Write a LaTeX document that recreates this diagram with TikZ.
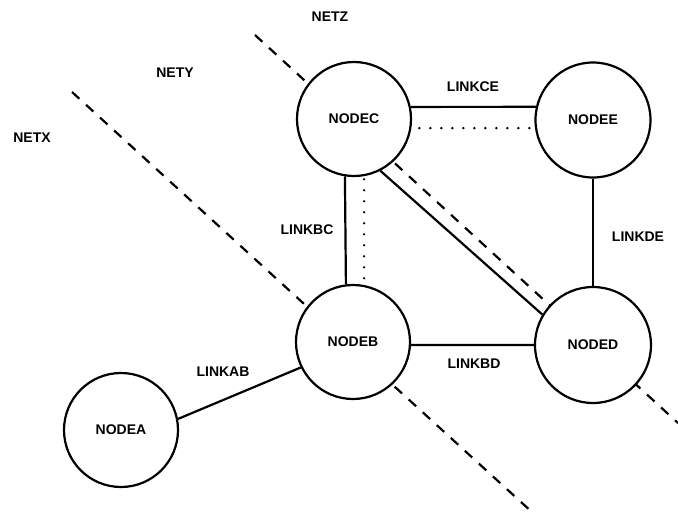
\documentclass[tikz,border=0pt]{standalone}
\usepackage{fontspec}
\setmainfont{Liberation Sans}
\begin{document}
\begin{tikzpicture}[x=1pt,y=-1pt,
  netnode/.style={draw,circle,line width=2.2pt,fill=white,inner sep=0pt,minimum size=114pt,font=\fontsize{14}{16}\selectfont\bfseries},
  lbl/.style={inner sep=0pt,font=\fontsize{14}{16}\selectfont\bfseries},
  link/.style={line width=2.2pt},
  dotlink/.style={line width=2.6pt,line cap=round,dash pattern=on 0pt off 11pt},
  boundary/.style={line width=2.2pt,dash pattern=on 10pt off 9pt}]
\useasboundingbox (0,0) rectangle (678,517);
% network boundaries
\coordinate (z1) at (255,35);
\coordinate (z2) at (678,423);
\coordinate (y1) at (72,92);
\coordinate (y2) at (533,513);
\draw[boundary] (z1) -- (z2);
\draw[boundary] (y1) -- (y2);
% nodes
\node[netnode] (C) at (354,119) {NODEC};
\node[netnode,minimum size=115pt] (E) at (593,120) {NODEE};
\node[netnode] (B) at (353,342) {NODEB};
\node[netnode,minimum size=116pt] (D) at (593,345) {NODED};
\node[netnode] (A) at (121,430) {NODEA};
% links
\draw[link] (C.12.2) -- (E.167);
\draw[dotlink,shorten <=8pt] (C.-9.1) -- (E.188);
\draw[link] (C.261.9) -- (B.97);
\draw[dotlink,shorten <=3pt,shorten >=5pt] (C.280) -- (B.79);
\draw[link] (C.297) -- (D.149);
\draw[link] (E.south) -- (D.north);
\draw[link] (B.-3) -- (D.180);
\draw[link] (A.11) -- (B.206);
% labels
\node[lbl] (netz) at (330,17) {NETZ};
\node[lbl] (nety) at (175,73) {NETY};
\node[lbl] (netx) at (32,138) {NETX};
\node[lbl] (lce) at (473,87) {LINKCE};
\node[lbl] (lbc) at (307,230) {LINKBC};
\node[lbl] (lde) at (638,237) {LINKDE};
\node[lbl] (lab) at (223,372) {LINKAB};
\node[lbl] (lbd) at (474,364) {LINKBD};
\end{tikzpicture}
\end{document}
